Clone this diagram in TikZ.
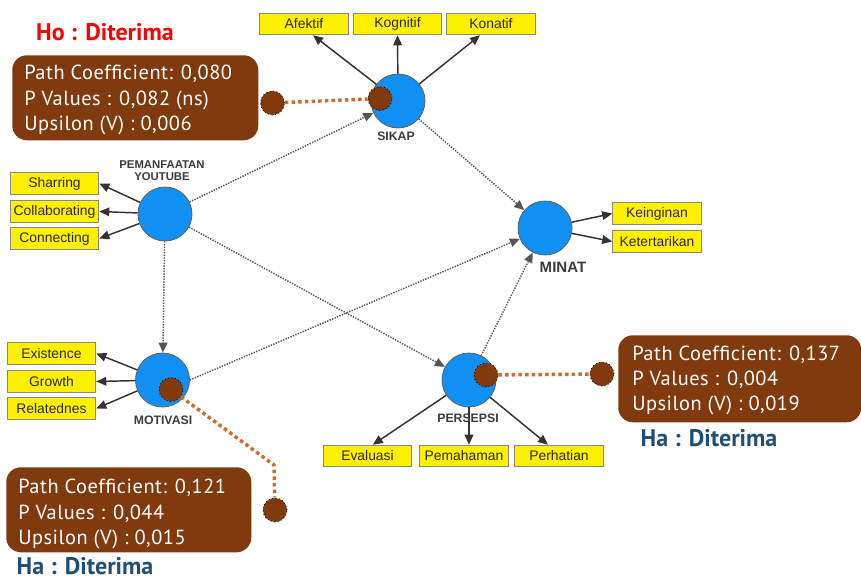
\documentclass[tikz,border=0pt]{standalone}
\usepackage{fontspec}
\usetikzlibrary{arrows.meta}
\newfontfamily\arialfont{Liberation Sans}
\newfontfamily\dinfont{PT Sans}
\newfontfamily\dinspaced[LetterSpace=2.5]{PT Sans}

\definecolor{circblue}{RGB}{16,144,245}
\definecolor{circline}{RGB}{95,95,95}
\definecolor{ybox}{RGB}{255,240,0}
\definecolor{yborder}{RGB}{135,135,135}
\definecolor{txtdark}{RGB}{45,40,40}
\definecolor{lbldark}{RGB}{60,60,60}
\definecolor{arrdark}{RGB}{55,50,50}
\definecolor{dotgray}{RGB}{85,85,85}
\definecolor{brownfill}{RGB}{128,58,14}
\definecolor{orangeline}{RGB}{210,105,45}
\definecolor{verdictblue}{RGB}{31,78,121}
\definecolor{verdictred}{RGB}{255,0,0}

\tikzset{
  latent/.style={circle, draw=circline, fill=circblue, line width=0.6pt,
    minimum size=40.5pt, inner sep=0pt},
  ind/.style={draw=yborder, fill=ybox, line width=0.7pt, minimum width=66.5pt,
    minimum height=16.2pt, inner sep=0pt, text=txtdark,
    font=\arialfont\fontsize{10.4}{12}\selectfont},
  lvlabel/.style={text=lbldark, align=center, inner sep=0pt,
    font=\arialfont\bfseries\fontsize{9.2}{9.2}\selectfont},
  loadarrow/.style={draw=arrdark, line width=1.1pt,
    -{Triangle[length=7.5pt,width=6.5pt]}},
  patharrow/.style={draw=dotgray, line width=1.1pt, dash pattern=on 1pt off 1pt,
    -{Triangle[length=7.5pt,width=6.5pt]}},
  pinball/.style={circle, fill=brownfill, draw=black, dotted, line width=0.6pt,
    minimum size=18pt, inner sep=0pt},
  leader/.style={draw=orangeline, line width=2.6pt, dash pattern=on 2.6pt off 2.4pt},
  statbox/.style={fill=brownfill, rounded corners=11pt, anchor=north west,
    inner sep=0pt},
  stattext/.style={text=white, align=left, anchor=west, inner sep=0pt,
    font=\dinspaced\fontsize{15.3}{18.9}\selectfont},
  verdict/.style={inner sep=0pt, font=\dinfont\bfseries\fontsize{18}{18}\selectfont},
}

\begin{document}
\begin{tikzpicture}[x=0.75pt,y=-0.75pt]
\clip (0,0) rectangle (861,579);
\fill[white] (0,0) rectangle (861,579);

% ---------- statistic boxes ----------
\node[statbox, minimum width=184.5pt, minimum height=63.75pt] (box1) at (12,55) {};
\node[statbox, minimum width=183.75pt, minimum height=63.75pt] (box2) at (6,467) {};
\node[statbox, minimum width=182.25pt, minimum height=65.25pt] (box3) at (618,335) {};

\node[stattext] (txt1) at (24,100) {Path Coefficient: 0,080\\P Values : 0,082 (ns)\\Upsilon (V) : 0,006};
\node[stattext] (txt2) at (18,514) {Path Coefficient: 0,121\\P Values : 0,044\\Upsilon (V) : 0,015};
\node[stattext] (txt3) at (632,380.5) {Path Coefficient: 0,137\\P Values : 0,004\\Upsilon (V) : 0,019};

\node[verdict, text=verdictred] (ho) at (105,32) {Ho : Diterima};
\node[verdict, text=verdictblue] (haright) at (709,438) {Ha : Diterima};
\node[verdict, text=verdictblue] (haleft) at (85,566.5) {Ha : Diterima};

% ---------- latent variables ----------
\node[latent] (sikap) at (398,101) {};
\node[latent] (py) at (165,214) {};
\node[latent] (minat) at (545,228) {};
\node[latent] (motivasi) at (162.5,380) {};
\node[latent] (persepsi) at (469,380) {};

% ---------- indicators ----------
\node[ind] (afektif) at (304,24) {Afektif};
\node[ind] (kognitif) at (397.5,24) {Kognitif};
\node[ind] (konatif) at (491,24) {Konatif};
\node[ind] (sharring) at (54.5,183.5) {Sharring};
\node[ind] (collab) at (54.5,211.5) {Collaborating};
\node[ind] (connecting) at (54.5,238.5) {Connecting};
\node[ind] (keinginan) at (657,213.5) {Keinginan};
\node[ind] (ketertarikan) at (657,241.5) {Ketertarikan};
\node[ind] (existence) at (51.5,353.5) {Existence};
\node[ind] (growth) at (51.5,381.5) {Growth};
\node[ind] (relatednes) at (51.5,408.5) {Relatednes};
\node[ind] (evaluasi) at (367.5,456) {Evaluasi};
\node[ind] (pemahaman) at (464,456) {Pemahaman};
\node[ind] (perhatian) at (559,456) {Perhatian};

% ---------- outer loadings ----------
\draw[loadarrow] (sikap) -- ([xshift=6.75pt]afektif.south);
\draw[loadarrow] (sikap) -- (kognitif);
\draw[loadarrow] (sikap) -- ([xshift=-8.25pt]konatif.south);
\draw[loadarrow] (py) -- (sharring.east);
\draw[loadarrow] (py) -- (collab.east);
\draw[loadarrow] (py) -- (connecting.east);
\draw[loadarrow] (minat) -- (keinginan.west);
\draw[loadarrow] (minat) -- (ketertarikan.west);
\draw[loadarrow] (motivasi) -- (existence.east);
\draw[loadarrow] (motivasi) -- (growth.east);
\draw[loadarrow] (motivasi) -- (relatednes.east);
\draw[loadarrow] (persepsi) -- ([xshift=4pt]evaluasi.north);
\draw[loadarrow] (persepsi.south) -- (persepsi.south |- pemahaman.north);
\draw[loadarrow] (persepsi) -- ([xshift=-8.25pt]perhatian.north);

% ---------- structural paths ----------
\draw[patharrow] (py) -- (sikap);
\draw[patharrow] (sikap) -- (minat);
\draw[patharrow] (py) -- (motivasi);
\draw[patharrow] (py) -- (persepsi);
\draw[patharrow] (motivasi.east) -- (minat);
\draw[patharrow] (persepsi) -- (minat);

% ---------- variable names ----------
\node[lvlabel] (lsikap) at (396,136) {SIKAP};
\node[lvlabel, font=\arialfont\bfseries\fontsize{8.5}{9}\selectfont] (lpy) at (162,171) {PEMANFAATAN\\YOUTUBE};
\node[lvlabel, font=\arialfont\bfseries\fontsize{11.3}{11.3}\selectfont] (lminat) at (563,267) {MINAT};
\node[lvlabel] (lmotivasi) at (163,420) {MOTIVASI};
\node[lvlabel] (lpersepsi) at (468,418) {PERSEPSI};

% ---------- callout pins and leaders ----------
\node[pinball] (pinsikap) at (380,98.5) {};
\node[pinball] (pina) at (272.5,103) {};
\node[pinball] (pinmot) at (171,389.5) {};
\node[pinball] (pinb) at (275,510) {};
\node[pinball] (pinper) at (486,375) {};
\node[pinball] (pinc) at (602,374) {};
\coordinate (bend) at (274,465);

\draw[leader] (pina) -- (pinsikap);
\draw[leader] (pinmot) -- (bend) -- (pinb);
\draw[leader] (pinper) -- (pinc);
\end{tikzpicture}
\end{document}
